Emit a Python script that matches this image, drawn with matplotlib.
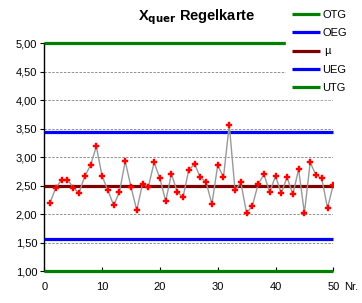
import matplotlib
matplotlib.use("Agg")
import matplotlib.pyplot as plt
from matplotlib.ticker import FuncFormatter

plt.rcParams['font.family'] = ['Liberation Sans', 'DejaVu Sans']

nr = list(range(1, 51))
werte = [2.20, 2.47, 2.60, 2.61, 2.47, 2.37, 2.67, 2.86, 3.19, 2.67,
         2.42, 2.16, 2.39, 2.93, 2.48, 2.07, 2.54, 2.48, 2.91, 2.63,
         2.23, 2.71, 2.39, 2.30, 2.78, 2.88, 2.65, 2.56, 2.18, 2.86,
         2.65, 3.57, 2.42, 2.56, 2.02, 2.15, 2.53, 2.70, 2.39, 2.67,
         2.37, 2.65, 2.35, 2.79, 2.02, 2.91, 2.69, 2.63, 2.11, 2.52]
OTG = 5.00
OEG = 3.44
MU = 2.50
UEG = 1.57
UTG = 1.00
grenz_labels = ['OTG', 'OEG', ' µ', 'UEG', 'UTG']
grenz_werte = [OTG, OEG, MU, UEG, UTG]
grenz_farben = ['#008000', '#0000ff', '#800000', '#0000ff', '#008000']
y_ticks = [1.0, 1.5, 2.0, 2.5, 3.0, 3.5, 4.0, 4.5, 5.0]
x_ticks = [0, 10, 20, 30, 40, 50]

W, H = 362, 303
fig = plt.figure(figsize=(W / 100, H / 100), dpi=100)
ax = fig.add_axes([44.3 / W, 1 - 271.3 / H, 289 / W, 228 / H])

# grid lines
for g in y_ticks[1:-1]:
    ax.axhline(g, color='#909090', lw=0.7, ls=(0, (2.5, 1.5)), zorder=1)

handles = []
for lab, v, c in zip(grenz_labels, grenz_werte, grenz_farben):
    h, = ax.plot([0, 50], [v, v], color=c, lw=2.3, solid_capstyle='butt',
                 zorder=3, label=lab, clip_on=False)
    handles.append(h)

ax.plot(nr, werte, color='#999999', lw=1.0, zorder=4)
ax.plot(nr, werte, ls='none', marker='P', ms=4.5, mfc='#ff0000',
        mec='#ff0000', mew=0.3, zorder=5)

ax.set_xlim(0, 50)
ax.set_ylim(1, 5)
ax.set_yticks(y_ticks)
ax.set_xticks(x_ticks)
ax.yaxis.set_major_formatter(FuncFormatter(lambda v, p: f"{v:.2f}".replace('.', ',')))
for s in ['top', 'right']:
    ax.spines[s].set_visible(False)
ax.spines['bottom'].set_visible(False)
ax.spines['left'].set_linewidth(1.0)
ax.tick_params(axis='y', direction='out', length=3, width=0.8, pad=2, labelsize=8)
ax.tick_params(axis='x', direction='in', length=3, width=0.8, pad=8, labelsize=8)

leg = fig.legend(handles=handles, loc='upper left',
                 bbox_to_anchor=(286 / W, 1 - 4 / H), frameon=True,
                 fontsize=8, handlelength=2.6, handletextpad=0.15,
                 labelspacing=0.76, borderpad=0.5, borderaxespad=0)
leg.get_frame().set_facecolor('white')
leg.get_frame().set_edgecolor('white')
leg.get_frame().set_alpha(1)
leg.get_frame().set_boxstyle('square', pad=0)
leg.set_zorder(10)

fig.text(344 / W, 1 - 287 / H, 'Nr.', fontsize=8, ha='left', va='center')
fig.text(197 / W, 1 - 17 / H, r'X$_{\mathbf{quer}}$ Regelkarte',
         fontsize=10.5, fontweight='bold', ha='center', va='center')

fig.savefig('out.png', dpi=100)
